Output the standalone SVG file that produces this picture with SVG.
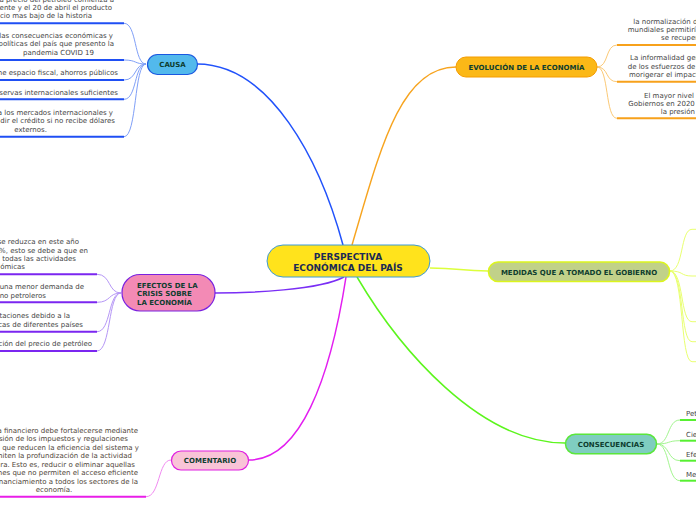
<svg xmlns="http://www.w3.org/2000/svg" width="696" height="520" viewBox="0 0 696 520">
<style>
.t{font-family:"DejaVu Sans",Verdana,sans-serif;font-size:7px;fill:#454545}
.tc{font-family:"DejaVu Sans",Verdana,sans-serif;font-size:7px;fill:#4f4538}
.n{font-family:"DejaVu Sans",Verdana,sans-serif;font-size:7px;font-weight:bold;fill:#0e3d2f;text-anchor:middle}
.m{font-family:"DejaVu Sans",Verdana,sans-serif;font-size:9px;font-weight:bold;fill:#1b2a55;text-anchor:middle}
.e{text-anchor:end}.mid{text-anchor:middle}
.main{fill:none;stroke-width:1.5}
.u{fill:none;stroke-width:2}
.c{fill:none;stroke-width:1}
</style>
<rect width="696" height="520" fill="#ffffff"/>
<g id="connectors">
<path class="main" stroke="#2152fb" d="M197,64 C270,64 320,160 343,245"/>
<path class="main" stroke="#f7a41f" d="M352,245 C380,150 400,67 456,67"/>
<path class="main" stroke="#dcff3c" d="M430,268 C460,268 460,271 488,271"/>
<path class="main" stroke="#5cf51d" d="M357,277 C400,350 480,443 565,443"/>
<path class="main" stroke="#7a2ef5" d="M344,277 C320,290 250,293 215,293"/>
<path class="main" stroke="#e31ef0" d="M346,277 C330,380 300,460 249,460"/>
<g stroke="#1f4ff4">
<line class="u" x1="0" y1="23.3" x2="124" y2="23.3"/>
<line class="u" x1="0" y1="60" x2="124" y2="60"/>
<line class="u" x1="0" y1="80" x2="124" y2="80"/>
<line class="u" x1="0" y1="99.3" x2="124" y2="99.3"/>
<line class="u" x1="0" y1="136.7" x2="124" y2="136.7"/>
</g>
<g stroke="#7f9ff7">
<path class="c" d="M124,23.3 C137,23.3 134,64 146,64"/>
<path class="c" d="M124,60 C137,60 134,64 146,64"/>
<path class="c" d="M124,80 C137,80 134,64 146,64"/>
<path class="c" d="M124,99.3 C137,99.3 134,64 146,64"/>
<path class="c" d="M124,136.7 C137,136.7 134,64 146,64"/>
</g>
<g stroke="#7b26f0">
<line class="u" x1="0" y1="274.3" x2="97" y2="274.3"/>
<line class="u" x1="0" y1="302.3" x2="97" y2="302.3"/>
<line class="u" x1="0" y1="331.7" x2="97" y2="331.7"/>
<line class="u" x1="0" y1="351" x2="97" y2="351"/>
</g>
<g stroke="#b596f6">
<path class="c" d="M97,274.3 C111,274.3 108,293 121,293"/>
<path class="c" d="M97,302.3 C111,302.3 108,293 121,293"/>
<path class="c" d="M97,331.7 C111,331.7 108,293 121,293"/>
<path class="c" d="M97,351 C111,351 108,293 121,293"/>
</g>
<line class="u" stroke="#e81ee8" x1="0" y1="496.7" x2="146" y2="496.7"/>
<path class="c" stroke="#f18af1" d="M146,496.7 C160,496.7 158,460 171,460"/>
<g stroke="#f7a11b">
<line class="u" x1="617" y1="45" x2="696" y2="45"/>
<line class="u" x1="617" y1="81.7" x2="696" y2="81.7"/>
<line class="u" x1="617" y1="118.3" x2="696" y2="118.3"/>
</g>
<g stroke="#fbc976">
<path class="c" d="M597,67 C609,67 605,45 617,45"/>
<path class="c" d="M597,67 C609,67 605,81.7 617,81.7"/>
<path class="c" d="M597,67 C609,67 605,118.3 617,118.3"/>
</g>
<g stroke="#e9ff70">
<path class="c" d="M670,271 C684,271 680,229.3 692,229.3 H696"/>
<path class="c" d="M670,271 C684,271 680,276 692,276 H696"/>
<path class="c" d="M670,271 C684,271 680,321.7 692,321.7 H696"/>
<path class="c" d="M670,271 C684,271 680,341.7 692,341.7 H696"/>
<path class="c" d="M670,271 C684,271 680,361.7 692,361.7 H696"/>
</g>
<g stroke="#57f031">
<line class="u" x1="680" y1="420" x2="696" y2="420"/>
<line class="u" x1="680" y1="440.7" x2="696" y2="440.7"/>
<line class="u" x1="680" y1="460.7" x2="696" y2="460.7"/>
<line class="u" x1="680" y1="480.7" x2="696" y2="480.7"/>
</g>
<g stroke="#a2f58e">
<path class="c" d="M657,444 C670,444 667,420 680,420"/>
<path class="c" d="M657,444 C670,444 667,440.7 680,440.7"/>
<path class="c" d="M657,444 C670,444 667,460.7 680,460.7"/>
<path class="c" d="M657,444 C670,444 667,480.7 680,480.7"/>
</g>
</g>
<g id="center">
<rect x="267" y="245" width="163" height="32" rx="16" fill="#ffe31c" stroke="#3d9ad8" stroke-width="1"/>
<text class="m" x="348" y="259.5">PERSPECTIVA</text>
<text class="m" x="348" y="271">ECONÓMICA DEL PAÍS</text>
</g>
<g id="causa">
<rect x="147.5" y="54.5" width="50" height="20" rx="10" fill="#52b9ec" stroke="#1a58e0" stroke-width="1.2"/>
<text class="n" x="172.5" y="67">CAUSA</text>
</g>
<g id="evolucion">
<rect x="456" y="57" width="141" height="20" rx="10" fill="#fbb817" stroke="#f59c00" stroke-width="1"/>
<text class="n" x="526.5" y="69.5">EVOLUCIÓN DE LA ECONOMÍA</text>
</g>
<g id="medidas">
<rect x="488.5" y="262" width="181" height="19.5" rx="9.5" fill="#c1d189" stroke="#dcf51d" stroke-width="1.5"/>
<text class="n" x="579" y="274.5">MEDIDAS QUE A TOMADO EL GOBIERNO</text>
</g>
<g id="consecuencias">
<rect x="565.5" y="434.3" width="91" height="19.4" rx="9.7" fill="#7fcdc0" stroke="#5be63b" stroke-width="1.5"/>
<text class="n" x="611" y="446.5">CONSECUENCIAS</text>
</g>
<g id="efectos">
<rect x="122" y="274.5" width="93" height="36.5" rx="18" fill="#f38ab5" stroke="#7a22e0" stroke-width="1.2"/>
<text class="n" x="137" y="287.5" style="text-anchor:start">EFECTOS DE LA</text>
<text class="n" x="137" y="296" style="text-anchor:start">CRISIS SOBRE</text>
<text class="n" x="137" y="304.5" style="text-anchor:start">LA ECONOMÍA</text>
</g>
<g id="comentario">
<rect x="171.5" y="451" width="77" height="19" rx="9.5" fill="#f9c4d7" stroke="#e020e0" stroke-width="1.2"/>
<text class="n" x="210" y="463">COMENTARIO</text>
</g>
<g id="causa-items">
<text class="t e" x="114" y="1.5">a precio del petróleo comienza a</text>
<text class="t e" x="112" y="9.5">ente y el 20 de abril el producto</text>
<text class="t e" x="92" y="17.5">cio mas bajo de la historia</text>
<text class="t e" x="113" y="37.5">las consecuencias económicas y</text>
<text class="t e" x="114" y="45.8">políticas del país que presento la</text>
<text class="t mid" x="58.5" y="54.8">pandemia COVID 19</text>
<text class="t e" x="118" y="74.8">ne espacio fiscal, ahorros públicos</text>
<text class="t e" x="118" y="94.8">eservas internacionales suficientes</text>
<text class="t e" x="113" y="114.8">a los mercados internacionales y</text>
<text class="t e" x="115" y="123.2">dir el crédito si no recibe dólares</text>
<text class="t mid" x="30.6" y="131.5">externos.</text>
</g>
<g id="efectos-items">
<text class="t e" x="79" y="243.5">se reduzca en este año</text>
<text class="t e" x="88" y="252.5">%, esto se debe a que en</text>
<text class="t e" x="76" y="260.8">todas las actividades</text>
<text class="t e" x="25" y="269.2">ómicas</text>
<text class="t e" x="84" y="289.2">una menor demanda de</text>
<text class="t e" x="46" y="298.2">no petroleros</text>
<text class="t e" x="70" y="317.5">taciones debido a la</text>
<text class="t e" x="83" y="326.5">cas de diferentes países</text>
<text class="t e" x="92" y="345.8">ción del precio de petróleo</text>
</g>
<g id="comentario-item">
<text class="tc e" x="138" y="432.5">a financiero debe fortalecerse mediante</text>
<text class="tc e" x="128" y="440.8">sión de los impuestos y regulaciones</text>
<text class="tc e" x="139" y="450.2">que reducen la eficiencia del sistema y</text>
<text class="tc e" x="132" y="458.2">miten la profundización de la actividad</text>
<text class="tc e" x="135" y="466.8">ra. Esto es, reducir o eliminar aquellas</text>
<text class="tc e" x="138" y="474.8">nes que no permiten el acceso eficiente</text>
<text class="tc e" x="138" y="483.5">nanciamiento a todos los sectores de la</text>
<text class="tc mid" x="54" y="491.5">economía.</text>
</g>
<g id="evolucion-items">
<text class="t" x="633.3" y="24.2">la normalización de</text>
<text class="t" x="627.7" y="31.8">mundiales permitiría</text>
<text class="t" x="661" y="40.2">se recupere</text>
<text class="t" x="630" y="60.2">La informalidad genera</text>
<text class="t" x="627.7" y="68.5">de los esfuerzos de los</text>
<text class="t" x="629" y="76.8">morigerar el impacto</text>
<text class="t" x="644" y="98.2">El mayor nivel de</text>
<text class="t" x="628.3" y="105.8">Gobiernos en 2020</text>
<text class="t" x="660.7" y="114.2">la presión</text>
</g>
<g id="consecuencias-items">
<text class="t" x="686" y="416">Petróleo</text>
<text class="t" x="686" y="436.5">Cierre</text>
<text class="t" x="686" y="456.5">Efectos</text>
<text class="t" x="686" y="477">Menor</text>
</g>
</svg>
